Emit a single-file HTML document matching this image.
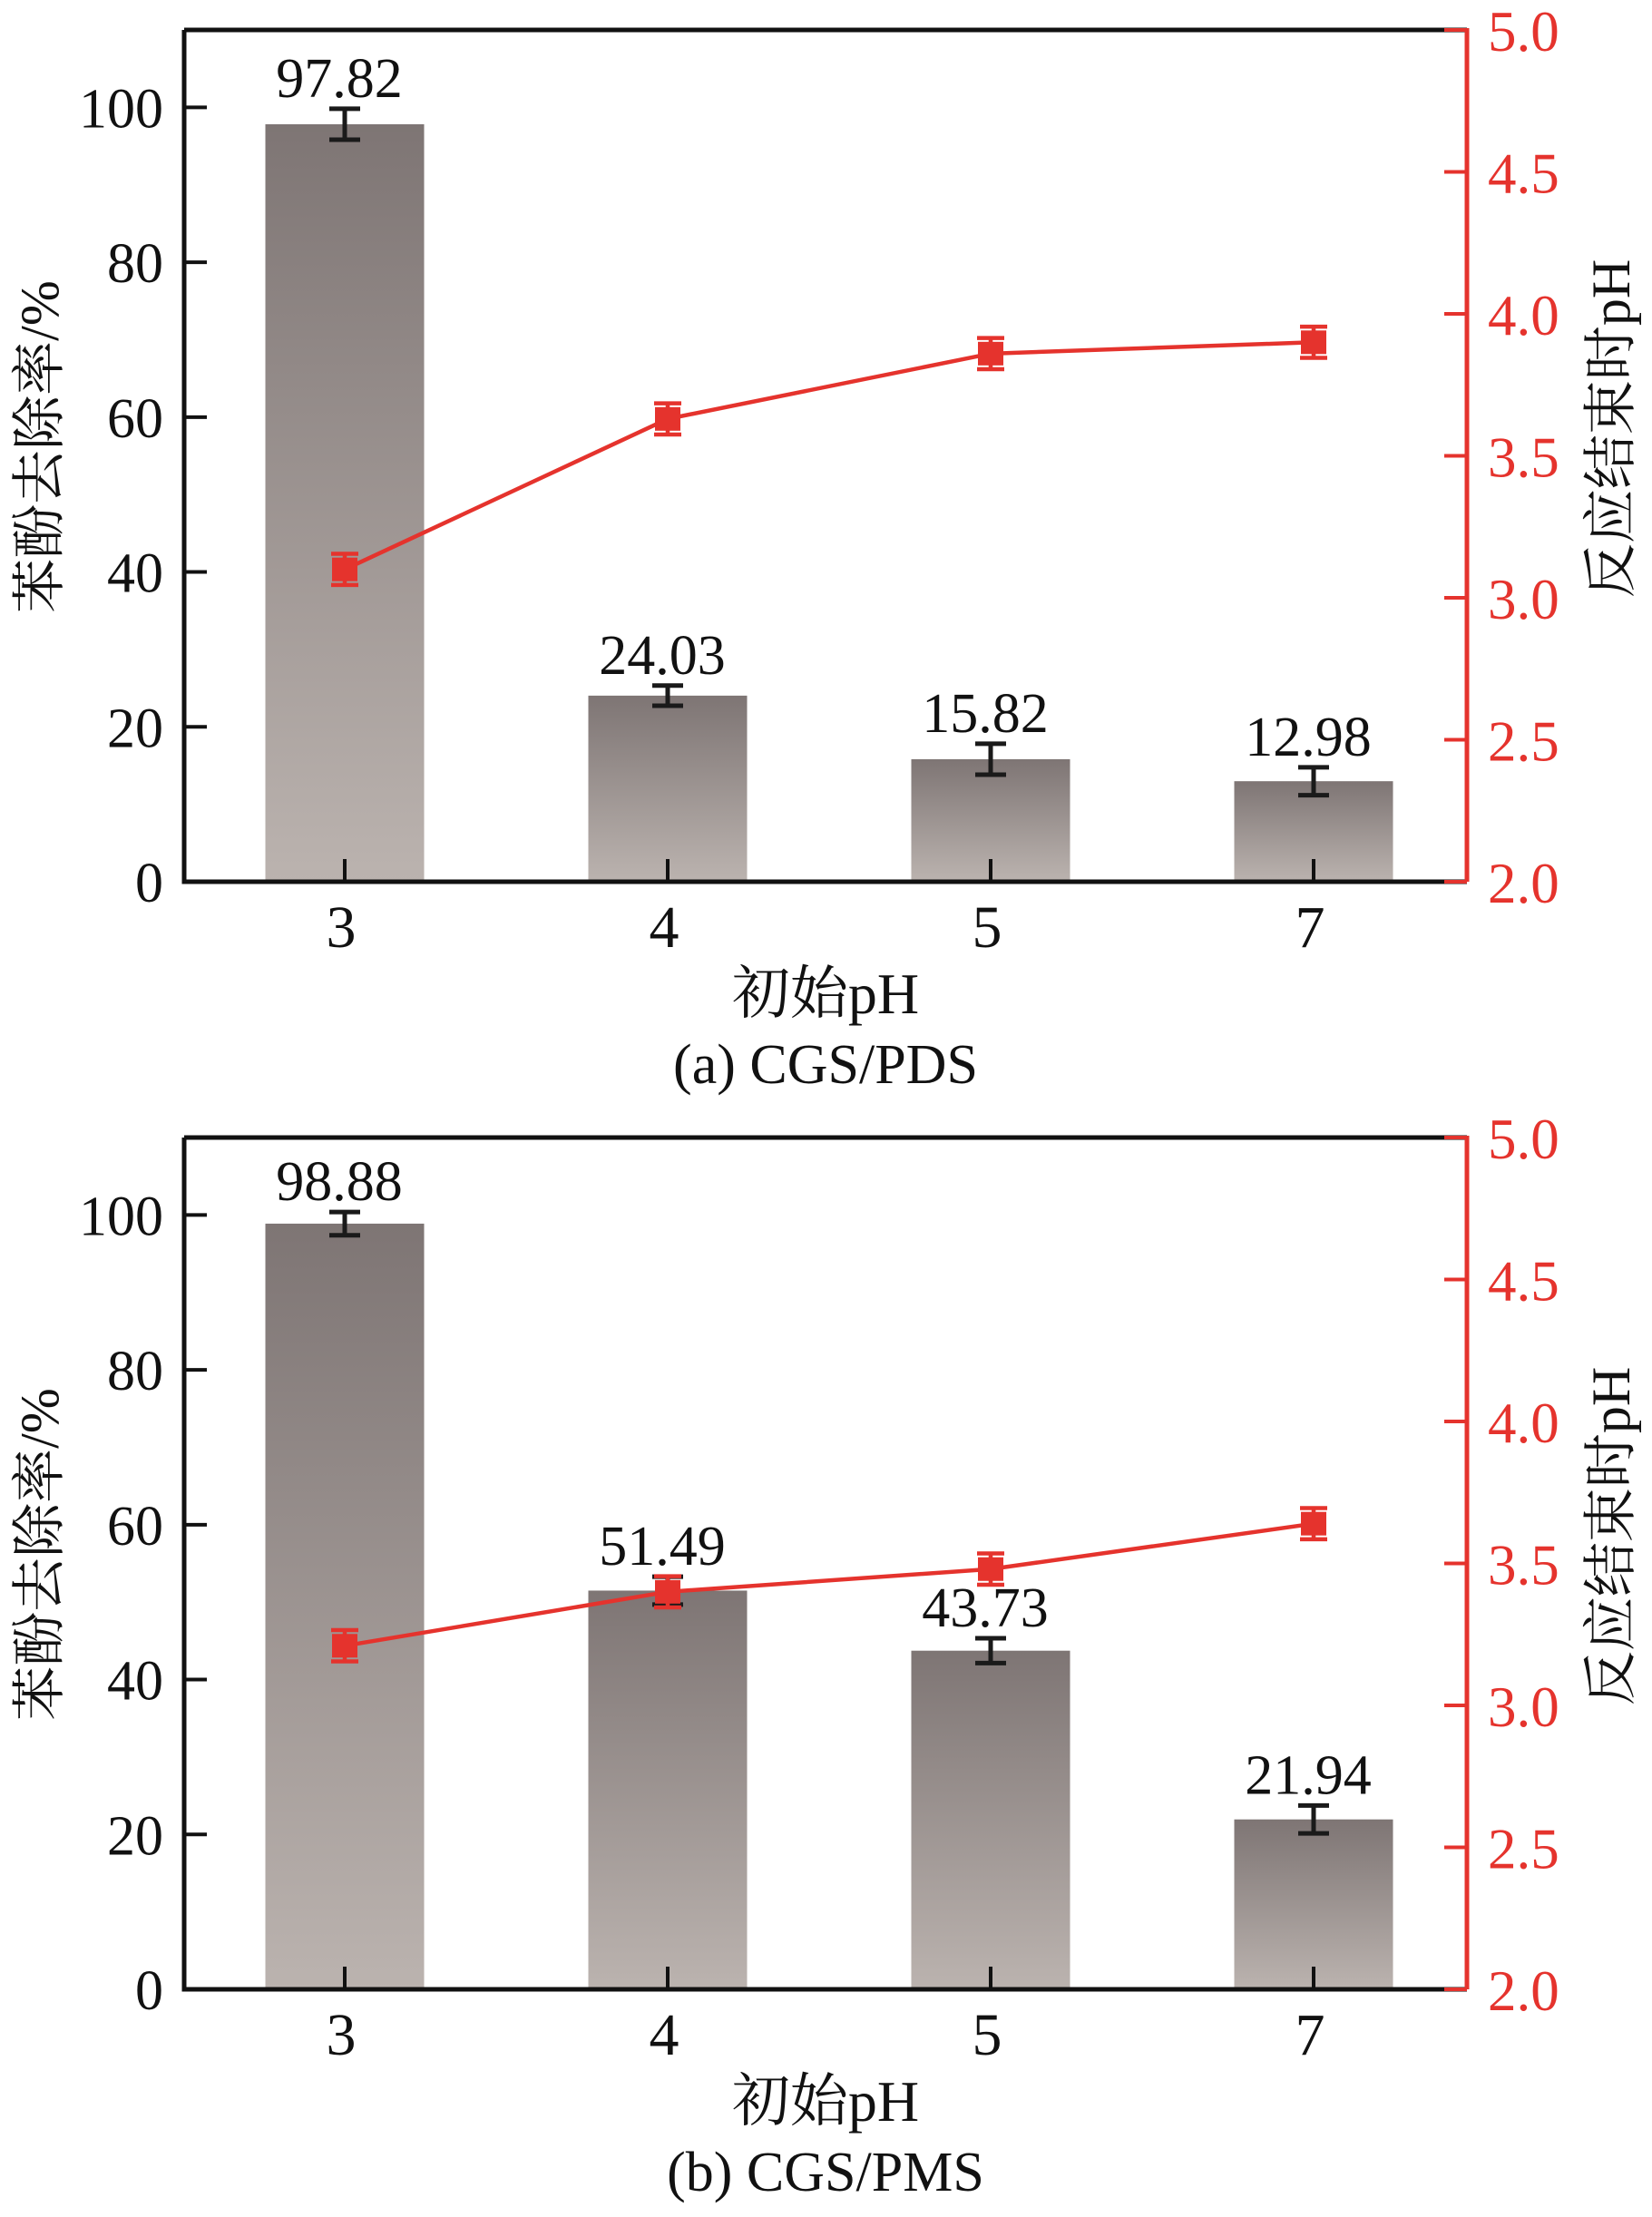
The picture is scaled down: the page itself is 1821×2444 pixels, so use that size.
<!DOCTYPE html>
<html><head><meta charset="utf-8">
<style>
html,body{margin:0;padding:0;background:#fff;}
svg{display:block;}
text{font-family:"Liberation Serif","Noto Serif CJK SC","Noto Sans CJK SC",serif;}
</style></head>
<body>
<svg id="chart" xmlns="http://www.w3.org/2000/svg" width="1821" height="2444" viewBox="0 0 1821 2444">
<defs>
<linearGradient id="barGrad" x1="0" y1="0" x2="0" y2="1">
<stop offset="0" stop-color="#7e7574"/>
<stop offset="1" stop-color="#bbb3af"/>
</linearGradient>
</defs>
</svg>
<script>
const categories = ["3","4","5","7"];
const removalA = [97.82, 24.03, 15.82, 12.98];
const removalErrA = [2.0, 1.3, 2.0, 1.8];
const phA = [3.10, 3.63, 3.86, 3.90];
const phErrA = [0.055, 0.055, 0.055, 0.055];
const removalB = [98.88, 51.49, 43.73, 21.94];
const removalErrB = [1.5, 1.8, 1.6, 1.8];
const phB = [3.21, 3.40, 3.48, 3.64];
const phErrB = [0.055, 0.055, 0.055, 0.055];
const leftTicks = [0, 20, 40, 60, 80, 100];
const rightTicks = ["2.0","2.5","3.0","3.5","4.0","4.5","5.0"];

const NS = "http://www.w3.org/2000/svg";
const svg = document.getElementById("chart");
const RED = "#e5332d";

function mk(tag, attrs, parent, text) {
  const e = document.createElementNS(NS, tag);
  for (const k in attrs) e.setAttribute(k, attrs[k]);
  if (text !== undefined) e.textContent = text;
  parent.appendChild(e);
  return e;
}

function drawPanel(oy, removal, removalErr, ph, phErr, caption, key) {
  const L = 203, R = 1617, T = 33 + oy, B = 972 + oy;
  const g = mk("g", {}, svg);
  
  
  const yL = v => B - (v / 110) * (B - T);
  const yR = v => B - ((v - 2) / 3) * (B - T);
  const step = (R - L - 346) / 3;
  const xC = i => L + 177 + i * step;
  const bw = 175;

  removal.forEach((v, i) => {
    const r = mk("rect", {x: xC(i) - bw/2, y: yL(v), width: bw, height: B - yL(v), fill: "url(#barGrad)"}, g);
    
    
    const e = removalErr[i], x = xC(i);
    const eb = mk("path", {d: `M${x},${yL(v+e)}V${yL(v-e)}M${x-17},${yL(v+e)}H${x+17}M${x-17},${yL(v-e)}H${x+17}`, stroke: "#1a1a1a", "stroke-width": 5, fill: "none"}, g);
    
    
    const t = mk("text", {x: x - 6, y: yL(v + e) - 13, "font-size": 62, "text-anchor": "middle", fill: "#111"}, g, v.toFixed(2));
    
    
  });

  const fr = mk("path", {d: `M${L},${T}V${B}H${R}M${L},${T}H${R}`, stroke: "#111", "stroke-width": 5, fill: "none"}, g);
  
  
  const ra = mk("line", {x1: R, y1: T - 2, x2: R, y2: B, stroke: RED, "stroke-width": 5}, g);
  
  

  leftTicks.forEach(v => {
    const tk = mk("line", {x1: L, x2: L + 25, y1: yL(v), y2: yL(v), stroke: "#111", "stroke-width": 4}, g);
    
    
    const t = mk("text", {x: 180, y: yL(v) + 22, "font-size": 62, "text-anchor": "end", fill: "#111"}, g, String(v));
    
    
  });
  rightTicks.forEach(s => {
    const v = parseFloat(s);
    const tk = mk("line", {x1: R - 25, x2: R, y1: yR(v), y2: yR(v), stroke: RED, "stroke-width": 4}, g);
    
    
    const t = mk("text", {x: 1640, y: yR(v) + 23, "font-size": 63, fill: RED}, g, s);
    
    
  });
  categories.forEach((c, i) => {
    const tk = mk("line", {x1: xC(i), x2: xC(i), y1: B, y2: B - 25, stroke: "#111", "stroke-width": 4}, g);
    
    
    const t = mk("text", {x: xC(i) - 4, y: B + 72, "font-size": 66, "text-anchor": "middle", fill: "#111"}, g, c);
    
    
  });

  const pts = ph.map((v, i) => `${xC(i)},${yR(v)}`).join(" ");
  const pl = mk("polyline", {points: pts, stroke: RED, "stroke-width": 4.5, fill: "none"}, g);
  
  
  ph.forEach((v, i) => {
    const x = xC(i), e = phErr[i];
    const eb = mk("path", {d: `M${x},${yR(v+e)}V${yR(v-e)}M${x-15},${yR(v+e)}H${x+15}M${x-15},${yR(v-e)}H${x+15}`, stroke: RED, "stroke-width": 4.5, fill: "none"}, g);
    
    
    const m = mk("rect", {x: x - 14, y: yR(v) - 13, width: 28, height: 26, fill: RED}, g);
    
    
  });

  const yt = mk("text", {transform: `translate(64,${(T+B)/2 - 10}) rotate(-90)`, "font-size": 60, "text-anchor": "middle", fill: "#111"}, g, "苯酚去除率/%");
  
  
  const rt = mk("text", {transform: `translate(1796,${(T+B)/2 - 30}) rotate(-90)`, "font-size": 60, "text-anchor": "middle", fill: "#111"}, g, "反应结束时pH");
  
  
  const xt = mk("text", {x: 910, y: B + 145, "font-size": 64, "text-anchor": "middle", fill: "#111"}, g, "初始pH");
  
  
  const cp = mk("text", {x: 910, y: B + 222, "font-size": 62, "text-anchor": "middle", fill: "#111"}, g, caption);
  
  
}

drawPanel(0, removalA, removalErrA, phA, phErrA, "(a) CGS/PDS", "a");
drawPanel(1221, removalB, removalErrB, phB, phErrB, "(b) CGS/PMS", "b");
</script>
</body></html>
